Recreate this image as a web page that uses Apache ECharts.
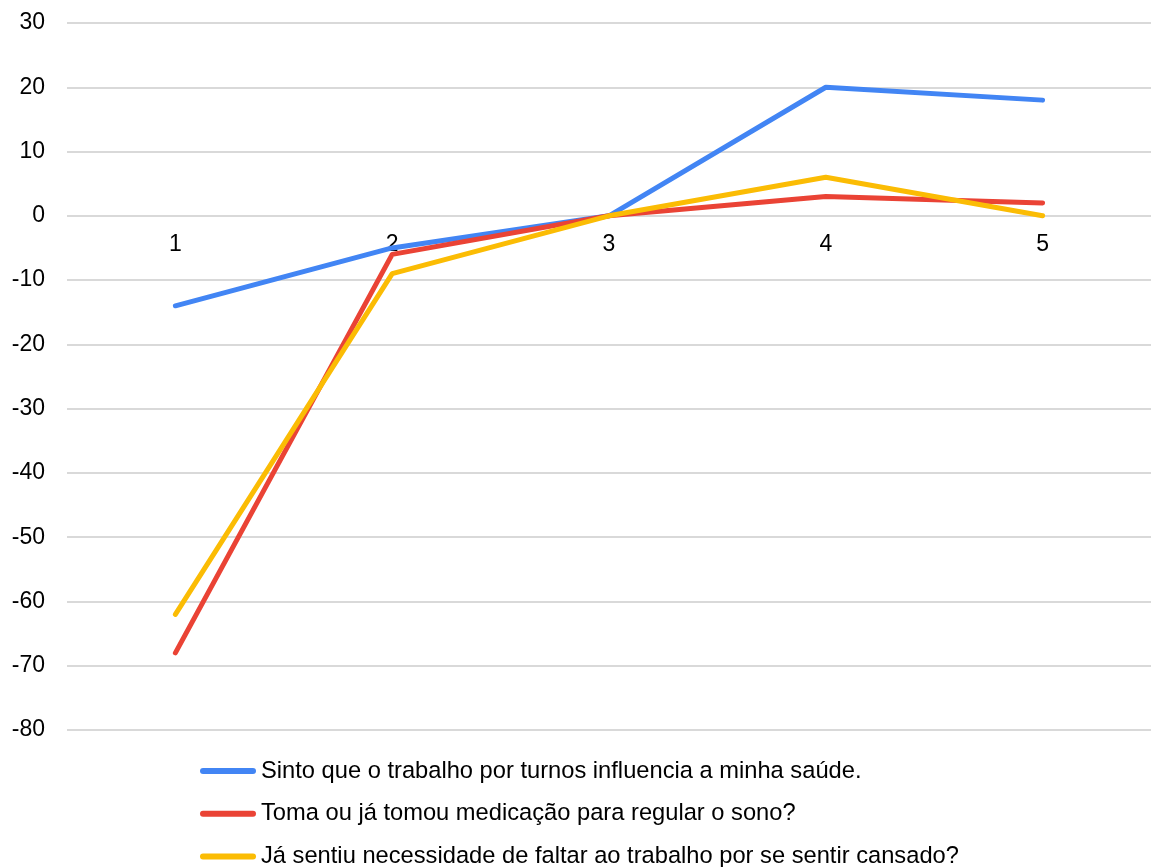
<!DOCTYPE html>
<html>
<head>
<meta charset="utf-8">
<style>
  html, body { margin: 0; padding: 0; background: #fff; }
  #chart { width: 1151px; height: 867px; }
</style>
<script src="https://cdn.jsdelivr.net/npm/echarts@6/dist/echarts.min.js"></script>
</head>
<body>
<div id="chart"></div>
<script>
// Categories along the x axis
const categories = ['1', '2', '3', '4', '5'];

// Series names and values
const seriesNames = [
  'Sinto que o trabalho por turnos influencia a minha saúde.',
  'Toma ou já tomou medicação para regular o sono?',
  'Já sentiu necessidade de faltar ao trabalho por se sentir cansado?'
];
const saudeValues = [-14, -5, 0, 20, 18];
const medicacaoValues = [-68, -6, 0, 3, 2];
const cansadoValues = [-62, -9, 0, 6, 0];

// Value-axis range
const yMin = -80;
const yMax = 30;
const yStep = 10;

const seriesColors = ['#4285F4', '#EA4335', '#FBBC04'];

const chart = echarts.init(document.getElementById('chart'), null, { renderer: 'canvas' });

const font = 'Arial, "Liberation Sans", sans-serif';
const textColor = '#000';
const gridTop = 23;
const gridBottom = 137;
const gridHeight = 867 - gridTop - gridBottom;
// Shift the category axis up so it sits on the zero line
const zeroOffset = -gridHeight * (0 - yMin) / (yMax - yMin);

function lineSeries(name, data, color) {
  return {
    name: name,
    type: 'line',
    data: data,
    symbol: 'none',
    smooth: false,
    lineStyle: { color: color, width: 5, cap: 'round', join: 'round' },
    itemStyle: { color: color },
    emphasis: { disabled: true }
  };
}

// Capsule-shaped legend marker (thick line with rounded ends)
const capsule = 'path://M3,0 L53,0 A3,3 0 0 1 53,6 L3,6 A3,3 0 0 1 3,0 Z';

chart.setOption({
  animation: false,
  backgroundColor: '#ffffff',
  color: seriesColors,
  grid: { left: 67, right: -9, top: gridTop, bottom: gridBottom, containLabel: false },
  xAxis: {
    type: 'category',
    data: categories,
    boundaryGap: true,
    position: 'bottom',
    offset: zeroOffset,
    axisLine: { show: false, onZero: false },
    axisTick: { show: false },
    axisLabel: { color: textColor, fontSize: 23, fontFamily: font, margin: 17 },
    splitLine: { show: false }
  },
  yAxis: {
    type: 'value',
    min: yMin,
    max: yMax,
    interval: yStep,
    axisLine: { show: false },
    axisTick: { show: false },
    axisLabel: { color: textColor, fontSize: 23, fontFamily: font, margin: 22 },
    splitLine: { show: true, lineStyle: { color: '#d9d9d9', width: 2 } }
  },
  legend: {
    orient: 'vertical',
    left: 200,
    top: 759,
    height: 160,
    padding: 0,
    itemWidth: 56,
    itemHeight: 6,
    itemGap: 18.8,
    icon: capsule,
    textStyle: { color: textColor, fontSize: 23.7, fontFamily: font, lineHeight: 24 },
    data: seriesNames.map((n, i) => ({
      name: n,
      itemStyle: { color: seriesColors[i] }
    }))
  },
  series: [
    lineSeries(seriesNames[0], saudeValues, seriesColors[0]),
    lineSeries(seriesNames[1], medicacaoValues, seriesColors[1]),
    lineSeries(seriesNames[2], cansadoValues, seriesColors[2])
  ]
});
</script>
</body>
</html>
